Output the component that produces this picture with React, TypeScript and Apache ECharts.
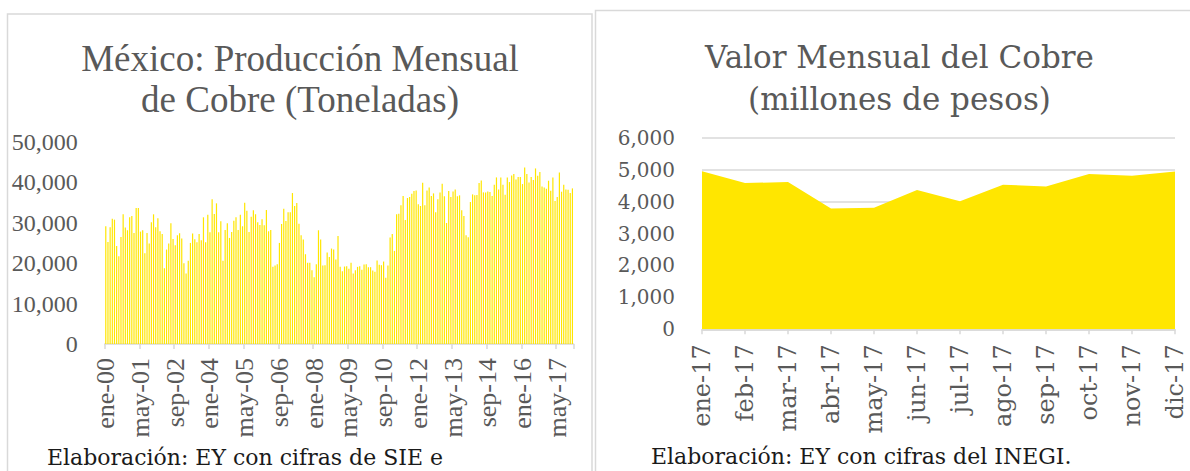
import React, { useEffect, useRef } from "react";
import * as echarts from "echarts";

const MONTHS = ["ene", "feb", "mar", "abr", "may", "jun", "jul", "ago", "sep", "oct", "nov", "dic"];
const PROD_YEARS = [
  "00", "01", "02", "03", "04", "05", "06", "07", "08",
  "09", "10", "11", "12", "13", "14", "15", "16", "17",
];
const prodCategories: string[] = PROD_YEARS.flatMap((y) => MONTHS.map((m) => `${m}-${y}`));

// Producción mensual de cobre (toneladas), ene-00 .. dic-17
const production2000to2003 = [
  29063, 25205, 28817, 30952, 30705, 24220, 21674, 26436, 32019, 28735, 28078, 31280,
  31609, 27421, 33579, 33579, 27750, 28078, 22413, 27421, 24794, 30049, 32019, 28817,
  31034, 27832, 27175, 18719, 23316, 24794, 29802, 25944, 24384, 26847, 27339, 26026,
  19950, 17405, 20525, 24958, 27257, 25862, 25123,
];
const production2003to2007 = [
  27175, 25615, 31280, 25123, 31937, 27586, 35714, 32101, 34728, 27586, 30295, 20525,
  28160, 29802, 26190, 27668, 30459, 31280, 28160, 31937, 29063, 34893, 32922, 27668,
  31444, 33004, 32019, 30049, 29392, 30788, 29310, 33086, 27832, 28160, 19047, 19376,
  19704, 24958, 29638, 33415, 30377, 32512, 32512,
];
const production2007to2010 = [
  37273, 34072, 34810, 29720, 26847, 25779, 22167, 20032, 20032, 18226, 16502, 19704,
  28078, 25779, 19376, 19458, 22578, 21510, 23563, 23316, 20853, 26683, 19047, 17980,
  19129, 19211, 18555, 20032, 17405, 18226, 19047, 19211, 18308, 19622, 19704, 18965,
  18965, 18144, 17816, 20607, 19540, 19458, 20361,
];
const production2010to2014 = [
  16338, 19376, 26272, 27175, 22988, 32019, 32183, 34236, 36535, 30623, 36042, 36288,
  37109, 37766, 37930, 34482, 34072, 39819, 34236, 37930, 38669, 36535, 37191, 32512,
  35714, 37438, 39572, 36452, 29884, 37766, 36288, 37684, 38177, 36452, 36699, 33004,
  31609, 26847, 26354, 35057, 36945, 36699, 36781, 39736,
];
const production2014to2017 = [
  40393, 37438, 37438, 37684, 37520, 36535, 39326, 41132, 38177, 41132, 39326, 36863,
  41132, 39983, 41625, 41953, 40640, 41214, 41214, 39490, 43595, 41953, 39901, 41214,
  40475, 43349, 41543, 42446, 38915, 38669, 38341, 40311, 37848, 41132, 35303, 36288,
  42364, 37602, 39326, 38177, 38094, 37273, 38423,
];
const production = [
  ...production2000to2003,
  ...production2003to2007,
  ...production2007to2010,
  ...production2010to2014,
  ...production2014to2017,
];

// Valor mensual del cobre 2017 (millones de pesos)
const valueCategories = MONTHS.map((m) => `${m}-17`);
const copperValue = [4950, 4580, 4610, 3780, 3810, 4360, 4010, 4530, 4470, 4860, 4810, 4940];

const leftTitle = ["México: Producción Mensual", "de Cobre (Toneladas)"];
const rightTitle = ["Valor Mensual del Cobre", "(millones de pesos)"];
const leftSource = "Elaboración: EY con cifras de SIE e";
const rightSource = "Elaboración: EY con cifras del INEGI.";

const YELLOW = "#FFE600";
const GREY_TEXT = "#595959";
const LINE_GREY = "#D9D9D9";
const TIMES = "'Liberation Serif', 'Times New Roman', serif";
const CAMBRIA = "'DejaVu Serif', serif";

const fmt = (v: number) => v.toLocaleString("en-US");

export default function App() {
  const ref = useRef<HTMLDivElement>(null);
  useEffect(() => {
    if (!ref.current) return;
    const chart = echarts.init(ref.current, undefined, { renderer: "svg" });
    chart.setOption({
      animation: false,
      backgroundColor: "#ffffff",
      grid: [
        { left: 104.7, right: 1190 - 573.5, top: 141.5, bottom: 471 - 344, containLabel: false },
        { left: 702, right: 15, top: 137.7, bottom: 471 - 329.3, containLabel: false },
      ],
      xAxis: [
        {
          type: "category",
          gridIndex: 0,
          data: prodCategories,
          boundaryGap: true,
          axisLine: { show: true, lineStyle: { color: LINE_GREY, width: 1.5 } },
          axisTick: { show: true, interval: 15, length: 5, lineStyle: { color: LINE_GREY, width: 1.5 } },
          axisLabel: {
            interval: 15,
            rotate: 90,
            margin: 14,
            color: GREY_TEXT,
            fontFamily: TIMES,
            fontSize: 26,
          },
        },
        {
          type: "category",
          gridIndex: 1,
          data: valueCategories,
          boundaryGap: false,
          axisLine: { show: true, lineStyle: { color: LINE_GREY, width: 1.5 } },
          axisTick: { show: true, interval: 0, length: 5, lineStyle: { color: LINE_GREY, width: 1.5 } },
          axisLabel: {
            interval: 0,
            rotate: 90,
            margin: 15,
            color: GREY_TEXT,
            fontFamily: CAMBRIA,
            fontSize: 24,
          },
        },
      ],
      yAxis: [
        {
          type: "value",
          gridIndex: 0,
          min: 0,
          max: 50000,
          interval: 10000,
          axisLine: { show: false },
          axisTick: { show: false },
          splitLine: { show: false },
          axisLabel: {
            margin: 27,
            color: GREY_TEXT,
            fontFamily: TIMES,
            fontSize: 24,
            formatter: (v: number) => fmt(v),
          },
        },
        {
          type: "value",
          gridIndex: 1,
          min: 0,
          max: 6000,
          interval: 1000,
          axisLine: { show: false },
          axisTick: { show: false },
          splitLine: { show: true, lineStyle: { color: LINE_GREY, width: 1.5 } },
          axisLabel: {
            margin: 27,
            color: GREY_TEXT,
            fontFamily: CAMBRIA,
            fontSize: 20,
            formatter: (v: number) => fmt(v),
          },
        },
      ],
      series: [
        {
          type: "bar",
          xAxisIndex: 0,
          yAxisIndex: 0,
          data: production,
          barCategoryGap: "45%",
          itemStyle: { color: YELLOW },
        },
        {
          type: "line",
          xAxisIndex: 1,
          yAxisIndex: 1,
          data: copperValue,
          symbol: "none",
          lineStyle: { width: 0, color: YELLOW },
          areaStyle: { color: YELLOW, opacity: 1 },
        },
      ],
      graphic: [
        {
          type: "polyline",
          shape: { points: [[7.5, 471], [7.5, 14], [592, 14], [592, 471]] },
          style: { stroke: LINE_GREY, lineWidth: 1.5, fill: "none" },
          silent: true,
        },
        {
          type: "polyline",
          shape: { points: [[595.5, 471], [595.5, 10.5], [1190, 10.5]] },
          style: { stroke: LINE_GREY, lineWidth: 1.5, fill: "none" },
          silent: true,
        },
        {
          type: "text",
          x: 300,
          y: 58.5,
          style: {
            text: leftTitle[0],
            font: `37px ${TIMES}`,
            fill: GREY_TEXT,
            textAlign: "center",
            textVerticalAlign: "middle",
          },
        },
        {
          type: "text",
          x: 300,
          y: 99.5,
          style: {
            text: leftTitle[1],
            font: `37px ${TIMES}`,
            fill: GREY_TEXT,
            textAlign: "center",
            textVerticalAlign: "middle",
          },
        },
        {
          type: "text",
          x: 899.5,
          y: 56.5,
          style: {
            text: rightTitle[0],
            font: `31px ${CAMBRIA}`,
            fill: GREY_TEXT,
            textAlign: "center",
            textVerticalAlign: "middle",
          },
        },
        {
          type: "text",
          x: 899.5,
          y: 99,
          style: {
            text: rightTitle[1],
            font: `31px ${CAMBRIA}`,
            fill: GREY_TEXT,
            textAlign: "center",
            textVerticalAlign: "middle",
          },
        },
        {
          type: "text",
          x: 47,
          y: 457,
          style: {
            text: leftSource,
            font: `22px ${CAMBRIA}`,
            fill: "#1a1a1a",
            textAlign: "left",
            textVerticalAlign: "middle",
          },
        },
        {
          type: "text",
          x: 651,
          y: 456,
          style: {
            text: rightSource,
            font: `22px ${CAMBRIA}`,
            fill: "#1a1a1a",
            textAlign: "left",
            textVerticalAlign: "middle",
          },
        },
      ],
    });
    return () => chart.dispose();
  }, []);
  return (
    <div
      ref={ref}
      style={{ position: "absolute", left: 0, top: 0, width: 1190, height: 471 }}
    />
  );
}
